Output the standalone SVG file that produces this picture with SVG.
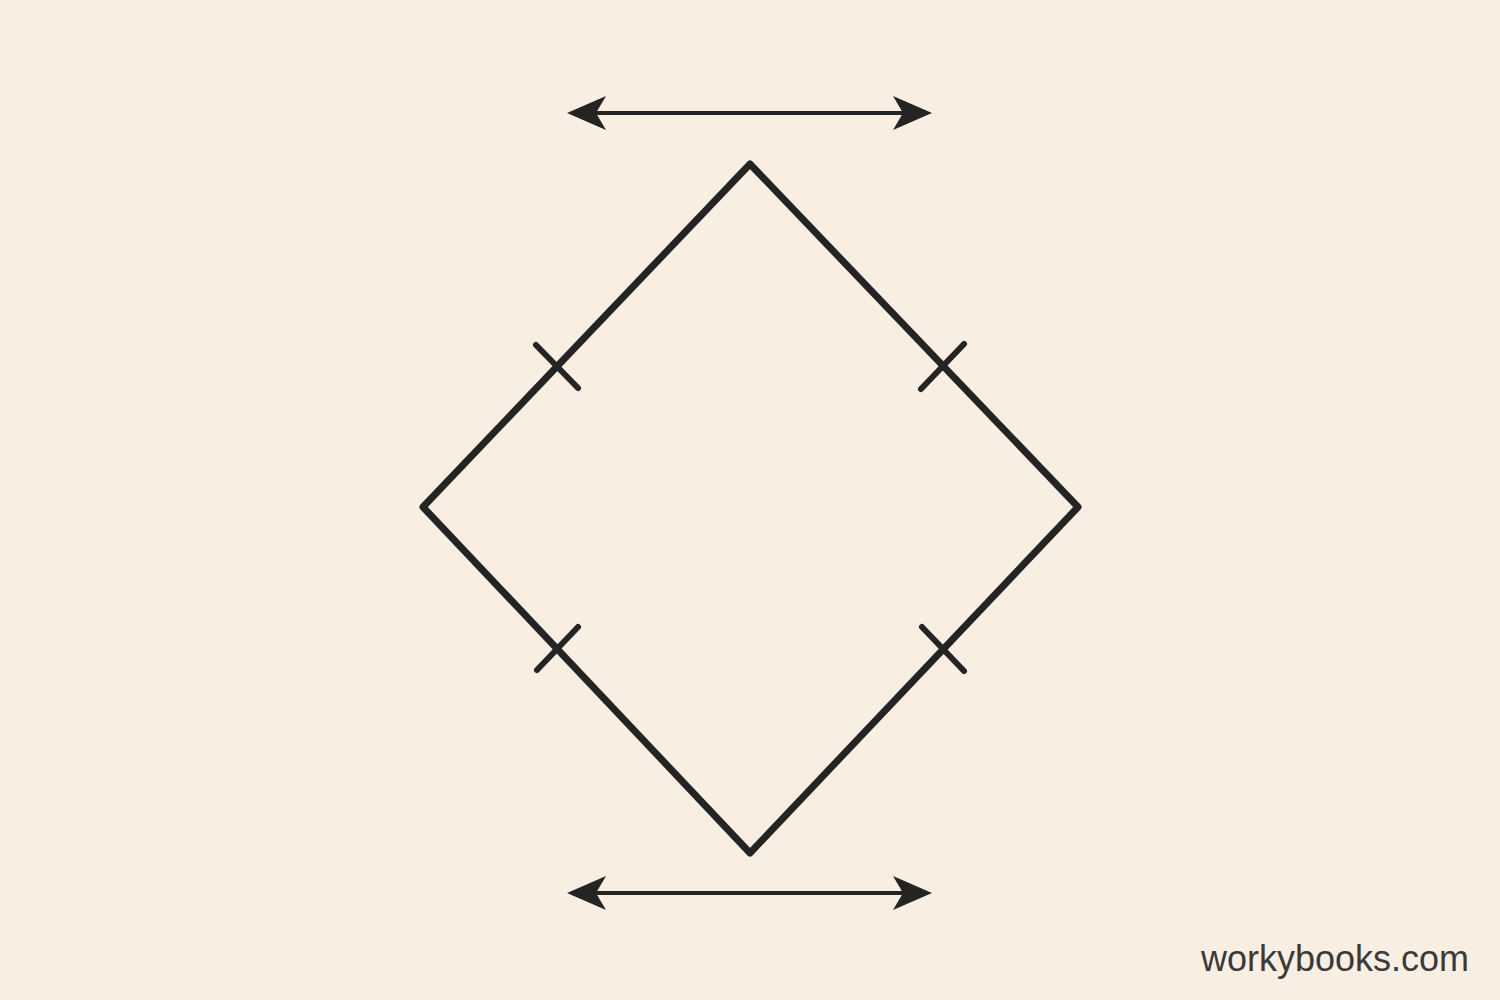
<svg xmlns="http://www.w3.org/2000/svg" width="1500" height="1000" viewBox="0 0 1500 1000">
<style>
.ln{stroke:#242424;fill:none;stroke-linecap:round;stroke-linejoin:round}
.ar{fill:#242424;stroke:none}
</style>
<rect width="1500" height="1000" fill="#f8efe2"/>
<g id="rhombus">
<polygon class="ln" stroke-width="7" points="750,164 1078,507 750,853 423,507"/>
</g>
<g id="ticks" class="ln" stroke-width="6">
<line x1="536" y1="345" x2="578" y2="388"/>
<line x1="921" y1="389" x2="964" y2="344"/>
<line x1="537" y1="670" x2="578" y2="627"/>
<line x1="922" y1="627" x2="964" y2="671"/>
</g>
<g id="connectors">
<g id="arrow-top">
<line class="ln" stroke-width="4" x1="595" y1="113" x2="905" y2="113"/>
<polygon class="ar" points="567,113 606,96 596,113 606,130"/>
<polygon class="ar" points="932,113 893,96 903,113 893,130"/>
</g>
<g id="arrow-bottom">
<line class="ln" stroke-width="4" x1="595" y1="893" x2="905" y2="893"/>
<polygon class="ar" points="567,893 606,876 596,893 606,910"/>
<polygon class="ar" points="932,893 893,876 903,893 893,910"/>
</g>
</g>
<text x="1469" y="971" text-anchor="end" font-family="'Liberation Sans', Arial, sans-serif" font-size="36" fill="#3a3a3a">workybooks.com</text>
</svg>
